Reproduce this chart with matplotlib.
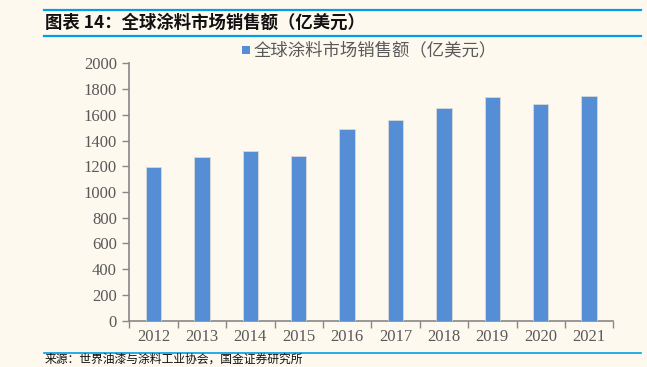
import matplotlib
matplotlib.use("Agg")
import matplotlib.pyplot as plt
from matplotlib.lines import Line2D
from matplotlib.patches import Rectangle

years = ["2012", "2013", "2014", "2015", "2016", "2017", "2018", "2019", "2020", "2021"]
sales = [1195, 1270, 1318, 1277, 1490, 1563, 1655, 1735, 1680, 1745]
yticks = [0, 200, 400, 600, 800, 1000, 1200, 1400, 1600, 1800, 2000]
series_name = "全球涂料市场销售额（亿美元）"
title = "图表 14：全球涂料市场销售额（亿美元）"
source = "来源：世界油漆与涂料工业协会，国金证券研究所"

W, H = 647, 367
bg = "#FEF9EF"
fig = plt.figure(figsize=(W / 100, H / 100), dpi=100, facecolor=bg)
cjk = ["Noto Sans CJK SC", "DejaVu Sans"]

ax = fig.add_axes([129.3 / W, 1 - 320.7 / H, (613.3 - 129.3) / W, (320.7 - 63.3) / H])
ax.set_facecolor(bg)
x = list(range(len(years)))
ax.bar(x, sales, width=0.32, color="#558ED5", edgecolor="#D9D9D9", linewidth=0.6, zorder=3)
ax.set_xlim(-0.5, len(years) - 0.5)
ax.set_ylim(0, 2000)
ax.set_yticks(yticks)
ax.set_yticklabels([str(v) for v in yticks], family="Liberation Serif", fontsize=12, color="#595959")
ax.set_xticks([i - 0.5 for i in range(len(years) + 1)])
ax.set_xticklabels([""] * (len(years) + 1))
ax.set_xticks(x, minor=True)
ax.set_xticklabels(years, minor=True, family="Liberation Serif", fontsize=12, color="#595959")
ax.tick_params(axis="x", which="major", length=5, width=1, color="#888888", direction="out")
ax.tick_params(axis="x", which="minor", length=0, pad=6)
ax.tick_params(axis="y", length=5, width=1, color="#888888", direction="out", pad=4)
for s in ["top", "right"]:
    ax.spines[s].set_visible(False)
for s in ["left", "bottom"]:
    ax.spines[s].set_color("#888888")
    ax.spines[s].set_linewidth(1.2)

# legend
fig.patches.append(Rectangle((242 / W, 1 - 54 / H), 8 / W, 8 / H, transform=fig.transFigure,
                             facecolor="#558ED5", edgecolor="none"))
fig.text(254 / W, 1 - 50 / H, series_name, family=cjk, fontsize=12.5, color="#595959",
         va="center", ha="left")

# title & rules
fig.add_artist(Line2D([44 / W, 641 / W], [1 - 10 / H, 1 - 10 / H], color="#00A0E9", lw=1.6,
                      transform=fig.transFigure))
fig.add_artist(Line2D([44 / W, 641 / W], [1 - 36 / H, 1 - 36 / H], color="#00A0E9", lw=1.6,
                      transform=fig.transFigure))
fig.text(45 / W, 1 - 23 / H, title, family=cjk, fontsize=12.5, fontweight="bold",
         color="#111111", va="center", ha="left")
fig.add_artist(Line2D([44 / W, 641 / W], [1 - 353 / H, 1 - 353 / H], color="#00A0E9", lw=1.2,
                      transform=fig.transFigure))
fig.text(45 / W, 1 - 366 / H, source, family=cjk, fontsize=8.5, color="#111111",
         va="bottom", ha="left")

fig.savefig("out.png", dpi=100, facecolor=bg)
